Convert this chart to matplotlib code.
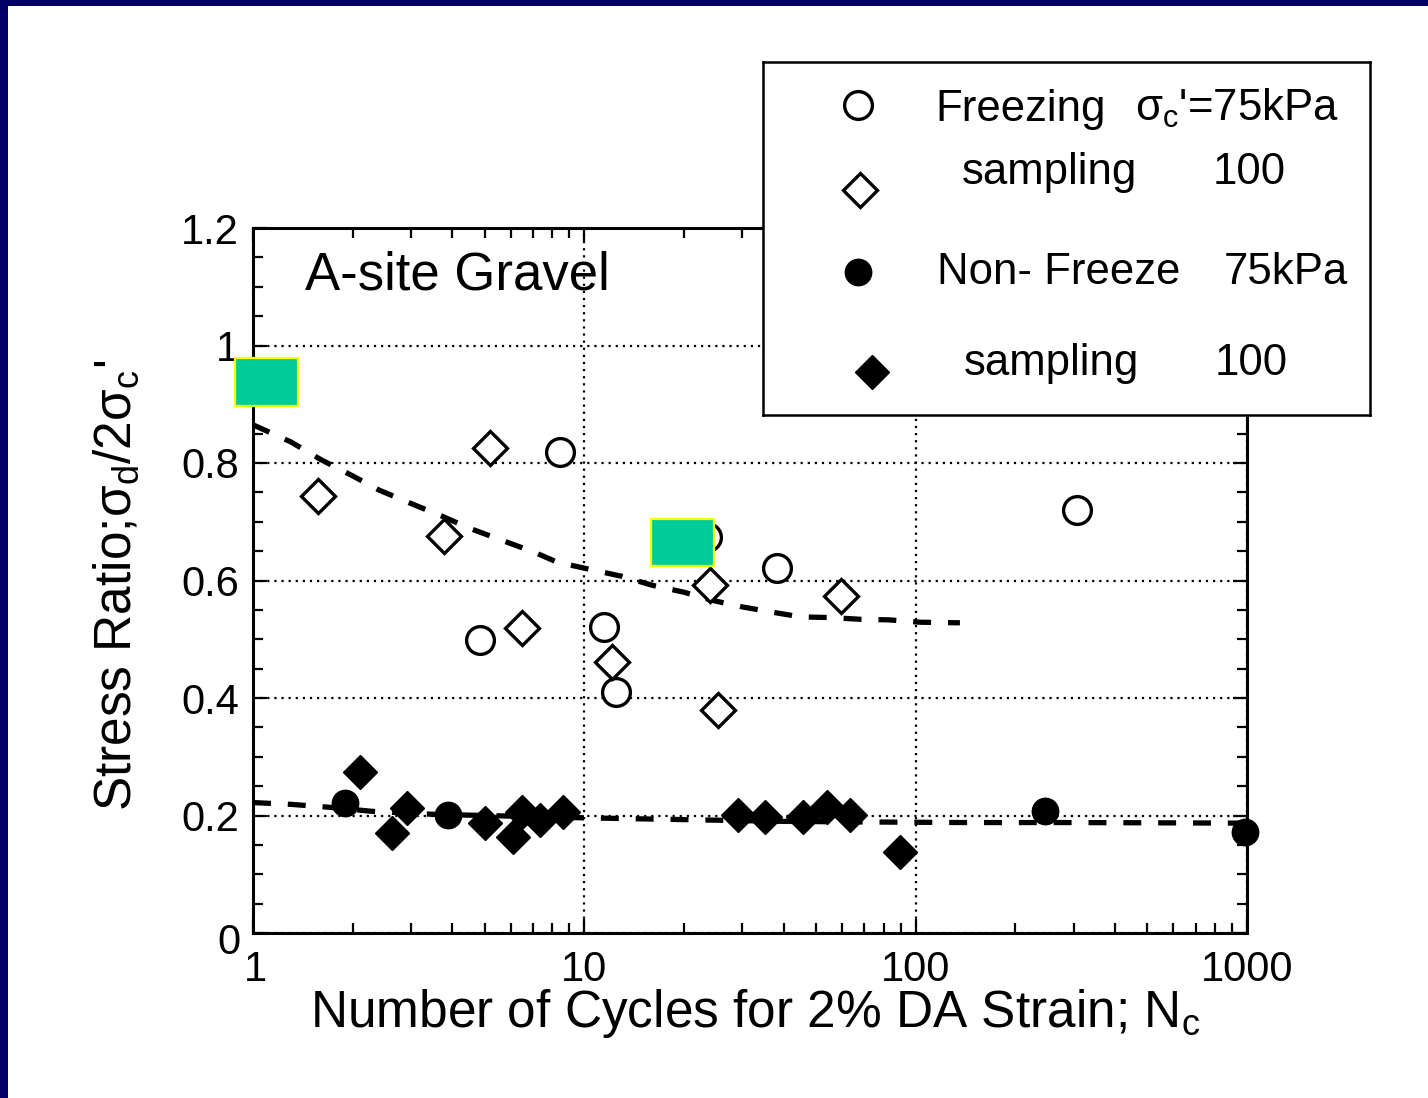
import matplotlib
matplotlib.use('Agg')
import matplotlib.pyplot as plt
from matplotlib.patches import Rectangle
from matplotlib.ticker import FixedLocator, LogLocator, MultipleLocator, NullFormatter, FixedFormatter

plt.rcParams['font.family'] = ['Liberation Sans', 'DejaVu Sans']
plt.rcParams['mathtext.fontset'] = 'custom'
plt.rcParams['mathtext.rm'] = 'Liberation Sans'
plt.rcParams['mathtext.it'] = 'Liberation Sans:italic'

freeze75_n = [8.45, 4.84, 11.5, 12.5, 23.5, 38.2, 307]
freeze75_r = [0.819, 0.499, 0.521, 0.41, 0.674, 0.621, 0.72]
freeze100_n = [1.57, 5.19, 3.77, 6.49, 12.1, 23.9, 25.3, 59.6]
freeze100_r = [0.744, 0.826, 0.676, 0.519, 0.461, 0.592, 0.38, 0.574]
nonfreeze75_n = [1.90, 3.88, 246, 987]
nonfreeze75_r = [0.221, 0.201, 0.208, 0.172]
nonfreeze100_n = [2.10, 2.63, 2.92, 5.01, 6.09, 6.49, 7.35, 8.62,
                  29.1, 35.1, 45.7, 54.0, 63.4, 89.7]
nonfreeze100_r = [0.274, 0.171, 0.213, 0.188, 0.164, 0.206, 0.192, 0.206,
                  0.201, 0.197, 0.197, 0.214, 0.201, 0.138]

# dashed trend lines
upper_n = [1, 1.3, 1.6, 2, 2.4, 3, 3.7, 4.5, 5.6, 7, 8.3, 10, 13, 16, 20,
           24, 30, 37, 45, 55, 68, 83, 103, 136]
upper_r = [0.865, 0.836, 0.806, 0.778, 0.754, 0.731, 0.71, 0.689, 0.669,
           0.649, 0.631, 0.621, 0.607, 0.592, 0.58, 0.567, 0.555, 0.546,
           0.538, 0.537, 0.534, 0.533, 0.529, 0.528]
lower_n = [1, 1.3, 1.7, 2.3, 3.5, 5, 7, 10, 20, 40, 70, 140, 300, 1000]
lower_r = [0.222, 0.219, 0.214, 0.207, 0.202, 0.200, 0.198, 0.196, 0.193,
           0.190, 0.189, 0.188, 0.188, 0.187]

y_ticks = [0, 0.2, 0.4, 0.6, 0.8, 1.0, 1.2]
y_labels = ['', '0.2', '0.4', '0.6', '0.8', '1', '1.2']
x_ticks = [1, 10, 100, 1000]
x_labels = ['', '10', '100', '1000']

W, H = 1428, 1098
fig = plt.figure(figsize=(W / 100, H / 100), dpi=100)
fig.patch.set_facecolor('white')

def fx(px):
    return px / W

def fy(py):
    return 1 - py / H

# navy frame on top and left
fig.add_artist(Rectangle((0, fy(6)), 1, 6 / H, transform=fig.transFigure,
                         fc='#000066', ec='none', zorder=0))
fig.add_artist(Rectangle((0, 0), 8 / W, 1, transform=fig.transFigure,
                         fc='#000066', ec='none', zorder=0))

ax = fig.add_axes([fx(253), fy(933), fx(1247) - fx(253), fy(228) - fy(933)])
ax.set_xscale('log')
ax.set_xlim(1, 1000)
ax.set_ylim(0, 1.2)

for s in ax.spines.values():
    s.set_linewidth(2.2)

ax.yaxis.set_major_locator(FixedLocator(y_ticks))
ax.yaxis.set_major_formatter(FixedFormatter(y_labels))
ax.yaxis.set_minor_locator(MultipleLocator(0.05))
ax.xaxis.set_major_locator(FixedLocator(x_ticks))
ax.xaxis.set_major_formatter(FixedFormatter(x_labels))
ax.xaxis.set_minor_locator(LogLocator(base=10, subs=range(2, 10)))
ax.xaxis.set_minor_formatter(NullFormatter())
ax.tick_params(which='both', direction='in', top=True, right=True, width=1.6)
ax.tick_params(which='major', length=10, labelsize=30)
ax.tick_params(which='minor', length=7)
ax.tick_params(axis='y', pad=10)
ax.tick_params(axis='x', pad=12)
ax.grid(True, which='major', color='black', linewidth=1.6, dashes=(1.0, 2.2))

# the origin labels sit a little lower in the scan
fig.text(fx(240), fy(943), '0', fontsize=30, ha='right', va='center')
fig.text(fx(255), fy(970), '1', fontsize=30, ha='center', va='center')

ax.plot(upper_n, upper_r, color='black', lw=3.8, dashes=(3.4, 3.2), zorder=3)
ax.plot(lower_n, lower_r, color='black', lw=3.8, dashes=(3.4, 3.2), zorder=3)

ax.plot(freeze75_n, freeze75_r, 'o', ms=20, mfc='white', mec='black', mew=2.4,
        ls='none', zorder=4, clip_on=False)
ax.plot(freeze100_n, freeze100_r, 'D', ms=17.5, mfc='white', mec='black', mew=2.4,
        ls='none', zorder=4, clip_on=False)
ax.plot(nonfreeze75_n, nonfreeze75_r, 'o', ms=19, mfc='black', mec='black',
        ls='none', zorder=5, clip_on=False)
ax.plot(nonfreeze100_n, nonfreeze100_r, 'D', ms=17.5, mfc='black', mec='black',
        ls='none', zorder=5, clip_on=False)

fig.text(fx(305), fy(275), 'A-site Gravel', fontsize=38, ha='left', va='center')
fig.text(fx(755), fy(1014), 'Number of Cycles for 2% DA Strain; N$_\\mathrm{c}$',
         fontsize=37, ha='center', va='center')
fig.text(fx(117), fy(585), "Stress Ratio;\u03c3$_\\mathrm{d}$/2\u03c3$_\\mathrm{c}$'",
         fontsize=37, rotation=90, ha='center', va='center')

# legend box drawn by hand to follow the scanned layout
lg = fig.add_axes([fx(763), fy(415), fx(1370) - fx(763), fy(62) - fy(415)])
lg.set_xlim(0, 1)
lg.set_ylim(0, 1)
lg.set_xticks([])
lg.set_yticks([])
lg.set_facecolor('white')
for s in lg.spines.values():
    s.set_linewidth(1.8)

lg.plot([0.1565], [0.878], 'o', ms=20, mfc='white', mec='black', mew=2.4)
lg.plot([0.160], [0.637], 'D', ms=17.5, mfc='white', mec='black', mew=2.4)
lg.plot([0.1565], [0.405], 'o', ms=19, mfc='black', mec='black')
lg.plot([0.180], [0.122], 'D', ms=17.5, mfc='black', mec='black')

def lgx(px):
    return (px - 763) / 607

def lgy(py):
    return (415 - py) / 353

rows = [
    (935, 121, 'Freezing', 1135, 121, "\u03c3$_\\mathrm{c}$'=75kPa"),
    (962, 184, 'sampling', 1213, 184, '100'),
    (937, 284, 'Non- Freeze', 1224, 284, '75kPa'),
    (964, 375, 'sampling', 1215, 375, '100'),
]
for x1, y1, t1, x2, y2, t2 in rows:
    lg.text(lgx(x1), lgy(y1), t1, fontsize=31.5, ha='left', va='baseline')
    lg.text(lgx(x2), lgy(y2), t2, fontsize=31.5, ha='left', va='baseline')

# green highlight boxes
for x0, y0, x1, y1 in [(235, 358, 298, 406), (651, 519, 714, 566)]:
    fig.add_artist(Rectangle((fx(x0), fy(y1)), fx(x1) - fx(x0), fy(y0) - fy(y1),
                             transform=fig.transFigure, fc='#00CC99',
                             ec='#FFFF00', lw=1.6, zorder=20))

fig.savefig('out.png', dpi=100)
